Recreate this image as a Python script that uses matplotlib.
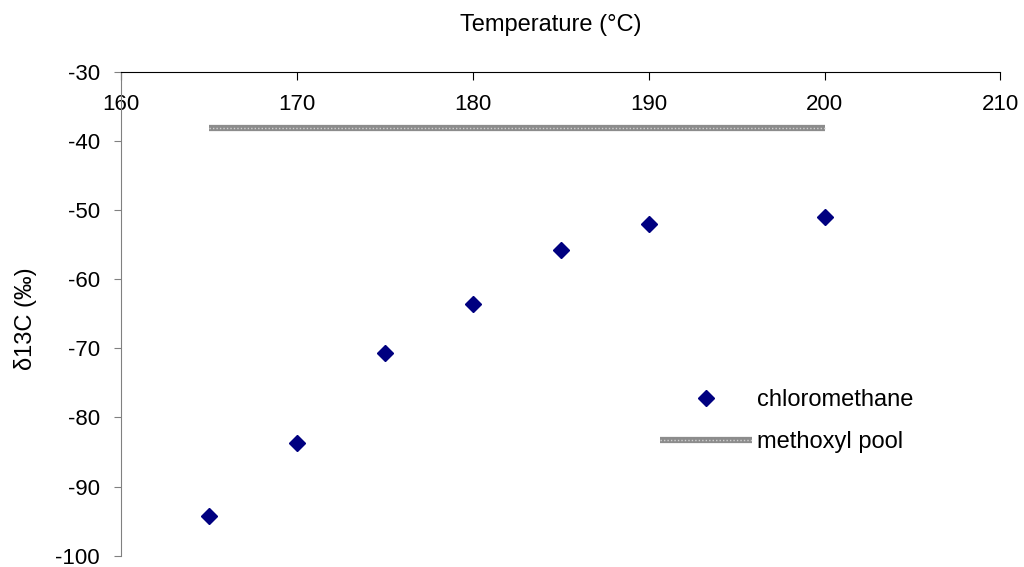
import matplotlib
matplotlib.use("Agg")
import matplotlib.pyplot as plt
from matplotlib.lines import Line2D

plt.rcParams["font.family"] = ["Liberation Sans", "DejaVu Sans"]
plt.rcParams["axes.unicode_minus"] = False

# chloromethane d13C vs temperature
temp_c = [165, 170, 175, 180, 185, 190, 200]
chloromethane = [-94.3, -83.7, -70.6, -63.6, -55.8, -52.0, -51.0]

# methoxyl pool reference level
pool_x = [165, 200]
pool_y = [-38.1, -38.1]

x_ticks = [160, 170, 180, 190, 200, 210]
y_ticks = [-100, -90, -80, -70, -60, -50, -40, -30]

fig = plt.figure(figsize=(10.24, 5.67), dpi=100)
ax = fig.add_axes([0.118, 0.02, 0.859, 0.853])

ax.plot(temp_c, chloromethane, linestyle="none", marker="D", markersize=8,
        color="#000080")
ax.plot(pool_x, pool_y, color="#8c8c8c", linewidth=4.5, solid_capstyle="butt")
ax.plot(pool_x, pool_y, color="#d0d0d0", linewidth=1.0, linestyle=(0, (1, 1.5)))

ax.set_xlim(160, 210)
ax.set_ylim(-100, -30)
ax.set_xticks(x_ticks)
ax.set_yticks(y_ticks)

# x axis sits on top, labels hang just below it
ax.xaxis.tick_top()
ax.tick_params(axis="x", direction="in", length=6, labelsize=16, pad=-31)
ax.tick_params(axis="y", direction="out", length=5, labelsize=16, pad=10,
               color="#808080")
ax.spines["right"].set_visible(False)
ax.spines["bottom"].set_visible(False)
ax.spines["left"].set_color("#808080")

ax.set_xlabel("Temperature (°C)", fontsize=17)
ax.xaxis.set_label_coords(0.489, 1.097)
ax.xaxis.label.set_va("center")
ax.set_ylabel("δ13C (‰)", fontsize=17)
ax.yaxis.set_label_coords(-0.108, 0.49)
ax.yaxis.label.set_va("center")

h1 = Line2D([], [], linestyle="none", marker="D", markersize=8, color="#000080")
h2a = Line2D([], [], color="#8c8c8c", linewidth=4.5, solid_capstyle="butt")
h2b = Line2D([], [], color="#d0d0d0", linewidth=1.0, linestyle=(0, (1, 1.5)))
ax.legend([h1, (h2a, h2b)], ["chloromethane", "methoxyl pool"],
          loc="upper left", bbox_to_anchor=(0.589, 0.389), frameon=False,
          fontsize=17, handlelength=3.9, handletextpad=0.2, labelspacing=0.85)

fig.savefig("out.png", dpi=100)
